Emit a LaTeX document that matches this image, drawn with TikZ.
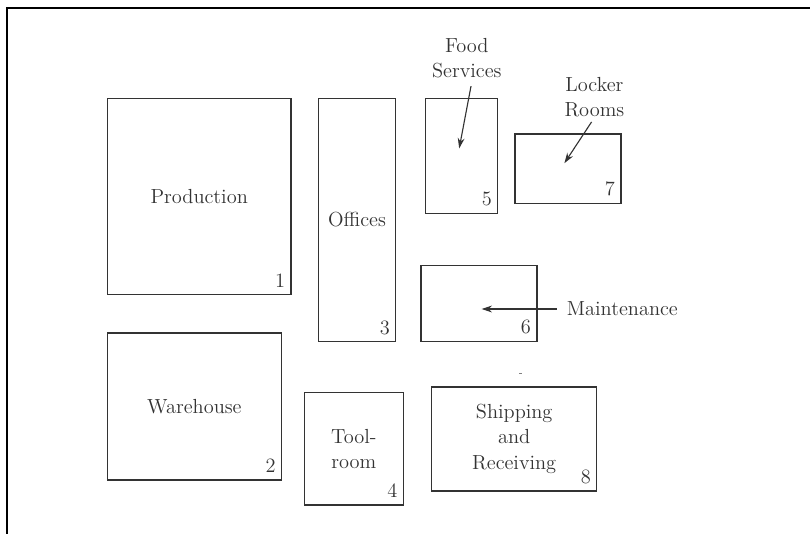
\documentclass[tikz,border=0pt]{standalone}
\usepackage{tikz}
\usetikzlibrary{arrows.meta,calc,positioning}

\begin{document}
\begin{tikzpicture}[
    room/.style={draw=black!80, line width=1.1pt, inner sep=0pt, align=center, text=black!80, font=\fontsize{14.5}{18}\selectfont},
    num/.style={anchor=south east, inner sep=0pt, xshift=-4.5pt, yshift=5.5pt, text=black!80, font=\fontsize{14.5}{18}\selectfont},
    tag/.style={align=center, text=black!80, font=\fontsize{14.5}{18}\selectfont},
    pointer/.style={-{Stealth[length=2.6mm, width=1.7mm]}, thick, black!80},
    frameline/.style={line width=2pt, black}
]
\useasboundingbox (0,0) rectangle (20.25,13.35);
\draw[frameline] (20.25,13.15) -- (0.175,13.15) -- (0.175,0);
\node[room, minimum width=4.59cm, minimum height=4.90cm] (prod) at (4.98,8.44) {Production};
\node[room, minimum width=4.35cm, minimum height=3.68cm] (ware) at (4.86,3.19) {Warehouse};
\node[room, minimum width=1.935cm, minimum height=6.085cm] (offi) at (8.925,7.85) {Offices};
\node[room, minimum width=2.475cm, minimum height=2.81cm] (tool) at (8.845,2.13) {Tool-\\room};
\node[room, minimum width=1.80cm, minimum height=2.875cm] (food) at (11.54,9.455) {};
\node[room, minimum width=2.90cm, minimum height=1.90cm] (main) at (11.97,5.76) {};
\node[room, minimum width=2.64cm, minimum height=1.73cm] (lock) at (14.20,9.13) {};
\node[room, minimum width=4.125cm, minimum height=2.60cm] (ship) at (12.855,2.38) {Shipping\\and\\Receiving};
\node[num] (n1) at (prod.south east) {1};
\node[num] (n2) at (ware.south east) {2};
\node[num] (n3) at (offi.south east) {3};
\node[num] (n4) at (tool.south east) {4};
\node[num] (n5) at (food.south east) {5};
\node[num] (n6) at (main.south east) {6};
\node[num] (n7) at (lock.south east) {7};
\node[num] (n8) at (ship.south east) {8};
\node[tag] (foodlbl) at (11.67,11.89) {Food\\Services};
\node[tag] (locklbl) at (14.86,10.925) {Locker\\Rooms};
\node[tag, anchor=west, inner sep=7pt] (mainlbl) at (13.92,5.625) {Maintenance};
\coordinate (foodtip) at (11.48,9.64);
\coordinate (locktip) at (14.11,9.27);
\coordinate (maintip) at (12.04,5.625);
\draw[pointer] ([xshift=3pt, yshift=-2pt]foodlbl.south) -- (foodtip);
\draw[pointer] ([xshift=-2pt]locklbl.south) -- (locktip);
\draw[pointer] (mainlbl.west) -- (maintip);
\draw[black!50, thin] (12.98,4.02) -- (13.06,4.02);
\end{tikzpicture}
\end{document}
